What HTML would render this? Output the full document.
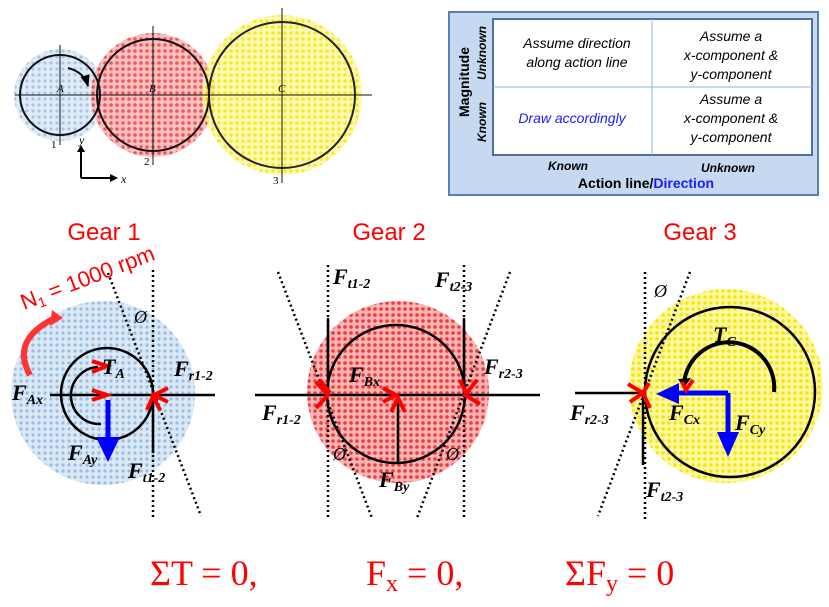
<!DOCTYPE html>
<html><head><meta charset="utf-8"><style>
body{margin:0;background:#fff;width:829px;height:607px;overflow:hidden}
svg{display:block}
text{font-family:"Liberation Serif",serif}
.s text,text.s{font-family:"Liberation Sans",sans-serif}
.f{font-family:"Liberation Serif",serif;font-weight:bold;font-style:italic;font-size:22px}
.sub{font-size:14px}
</style></head><body>
<svg width="829" height="607" viewBox="0 0 829 607">
<defs>
<pattern id="pb" width="6" height="6" patternUnits="userSpaceOnUse"><rect width="6" height="6" fill="#dbe8f5"/><circle cx="3" cy="3" r="1.6" fill="#99bce2"/></pattern>
<pattern id="pr" width="6" height="6" patternUnits="userSpaceOnUse"><rect width="6" height="6" fill="#f7b5b5"/><circle cx="3" cy="3" r="1.8" fill="#ee3b3b"/></pattern>
<pattern id="py" width="6" height="6" patternUnits="userSpaceOnUse"><rect width="6" height="6" fill="#fdf7a8"/><circle cx="3" cy="3" r="1.8" fill="#f5e800"/></pattern>
<marker id="ak" viewBox="0 0 10 10" refX="9" refY="5" markerWidth="6" markerHeight="6" orient="auto"><path d="M0,1L10,5L0,9z" fill="#000"/></marker>
</defs>

<g>
<circle cx="60" cy="95" r="46" fill="url(#pb)" opacity="0.85"/>
<circle cx="153" cy="95" r="62" fill="url(#pr)" opacity="0.85"/>
<circle cx="282" cy="95" r="80" fill="url(#py)" opacity="0.85"/>
<circle cx="60" cy="95" r="40" fill="none" stroke="#111" stroke-width="2"/>
<circle cx="153" cy="95" r="56" fill="none" stroke="#111" stroke-width="2"/>
<circle cx="282" cy="95" r="73" fill="none" stroke="#222" stroke-width="2"/>
<g stroke="#111" stroke-width="1">
<line x1="15" y1="95" x2="372" y2="95"/>
<line x1="60" y1="45" x2="60" y2="145"/>
<line x1="153" y1="26" x2="153" y2="165"/>
<line x1="282" y1="8" x2="282" y2="183"/>
</g>
<path d="M68,68 Q84,72 88,86" fill="none" stroke="#111" stroke-width="2" marker-end="url(#ak)"/>
<text x="57" y="92" font-size="11" font-style="italic">A</text>
<text x="149" y="92" font-size="11" font-style="italic">B</text>
<text x="278" y="92" font-size="11" font-style="italic">C</text>
<text x="51" y="148" font-size="11">1</text>
<text x="144" y="165" font-size="11">2</text>
<text x="273" y="184" font-size="11">3</text>
<path d="M81,178 L81,150 M81,178 L112,178" stroke="#000" stroke-width="2" fill="none"/>
<path d="M77,152 L81,145 L85,152z M110,174 L118,178 L110,182z" fill="#000"/>
<text x="79" y="144" font-size="12" font-style="italic">y</text>
<text x="121" y="183" font-size="12" font-style="italic">x</text>
</g>

<g class="s">
<rect x="449" y="12" width="369" height="183" fill="#c6d9f0" stroke="#5a80b0" stroke-width="2"/>
<rect x="493" y="19" width="319" height="136" fill="#fff" stroke="#4f6f9e" stroke-width="2"/>
<line x1="652" y1="19" x2="652" y2="155" stroke="#8db3e2" stroke-width="1"/>
<line x1="493" y1="87" x2="812" y2="87" stroke="#8db3e2" stroke-width="1"/>
<g font-size="14" font-style="italic" text-anchor="middle">
<text x="577" y="48">Assume direction</text>
<text x="577" y="67">along action line</text>
<text x="731" y="41">Assume a</text>
<text x="731" y="60">x-component &amp;</text>
<text x="731" y="79">y-component</text>
<text x="572" y="123" fill="#1a1aff">Draw accordingly</text>
<text x="731" y="104">Assume a</text>
<text x="731" y="123">x-component &amp;</text>
<text x="731" y="142">y-component</text>
<text x="568" y="170" font-size="12" font-weight="bold">Known</text>
<text x="728" y="172" font-size="12" font-weight="bold">Unknown</text>
<text x="646" y="188" font-size="14" font-weight="bold" font-style="normal">Action line/<tspan fill="#1a1aff">Direction</tspan></text>
<text transform="translate(469,82) rotate(-90)" font-size="14" font-weight="bold" font-style="normal">Magnitude</text>
<text transform="translate(486,53) rotate(-90)" font-size="12" font-weight="bold">Unknown</text>
<text transform="translate(486,122) rotate(-90)" font-size="12" font-weight="bold">Known</text>
</g>
</g>

<g class="s" fill="#f00" font-size="24" text-anchor="middle">
<text x="104" y="240">Gear 1</text>
<text x="389" y="240">Gear 2</text>
<text x="700" y="240">Gear 3</text>
</g>

<g>
<circle cx="103" cy="393" r="92" fill="url(#pb)"/>
<circle cx="107" cy="394" r="46" fill="none" stroke="#000" stroke-width="2.5"/>
<line x1="50" y1="395" x2="215" y2="395" stroke="#000" stroke-width="2.5"/>
<line x1="153" y1="270" x2="153" y2="520" stroke="#000" stroke-width="2.5" stroke-dasharray="2,3"/>
<line x1="108" y1="273" x2="201" y2="516" stroke="#000" stroke-width="2.5" stroke-dasharray="2,3"/>
<line x1="153" y1="395" x2="153" y2="453" stroke="#000" stroke-width="2.5"/>
<path d="M101,424 A28,28 0 1 1 98,367" fill="none" stroke="#000" stroke-width="2.5"/>
<line x1="108" y1="400" x2="108" y2="440" stroke="#00f" stroke-width="5"/>
<path d="M96,437 L108,462 L120,437z" fill="#00f"/>
<path d="M92,361 L107,366 L92,372 M92,390 L107,395 L92,400 M168,388 L154,395 L168,402 M147,410 L153,396 L160,410" fill="none" stroke="#f00" stroke-width="4"/>
<path d="M30,375 Q10,340 55,318" fill="none" stroke="#f33" stroke-width="6"/>
<path d="M52,310 L63,318 L50,326z" fill="#f33"/>
<text class="s" x="24" y="310" font-size="22" fill="#f00" transform="rotate(-21 24 310)">N<tspan font-size="14" dy="4">1</tspan><tspan dy="-4"> = 1000 rpm</tspan></text>
<text x="134" y="323" font-size="18" font-style="italic">Ø</text>
<text class="f" x="102" y="374">T<tspan class="sub" dy="4">A</tspan></text>
<text class="f" x="12" y="400">F<tspan class="sub" dy="4">Ax</tspan></text>
<text class="f" x="174" y="376">F<tspan class="sub" dy="4">r1-2</tspan></text>
<text class="f" x="68" y="460">F<tspan class="sub" dy="4">Ay</tspan></text>
<text class="f" x="128" y="478">F<tspan class="sub" dy="4">t1-2</tspan></text>
</g>

<g>
<circle cx="398" cy="392" r="91" fill="url(#pr)"/>
<circle cx="396" cy="394" r="69" fill="none" stroke="#000" stroke-width="2.5"/>
<line x1="255" y1="395" x2="540" y2="395" stroke="#000" stroke-width="2.5"/>
<line x1="328" y1="265" x2="328" y2="520" stroke="#000" stroke-width="2.5" stroke-dasharray="2,3"/>
<line x1="464" y1="265" x2="464" y2="520" stroke="#000" stroke-width="2.5" stroke-dasharray="2,3"/>
<line x1="278" y1="272" x2="372" y2="518" stroke="#000" stroke-width="2.5" stroke-dasharray="2,3"/>
<line x1="510" y1="272" x2="417" y2="518" stroke="#000" stroke-width="2.5" stroke-dasharray="2,3"/>
<line x1="328" y1="318" x2="328" y2="394" stroke="#000" stroke-width="2.5"/>
<line x1="464" y1="318" x2="464" y2="394" stroke="#000" stroke-width="2.5"/>
<line x1="398" y1="463" x2="398" y2="398" stroke="#000" stroke-width="2.5"/>
<path d="M316,382 L328,395 L316,408 M320,380 L330,393 M383,388 L396,395 L383,402 M391,412 L398,398 L405,412 M477,380 L465,395 L480,404 M460,380 L466,393" fill="none" stroke="#f00" stroke-width="4"/>
<text x="333" y="460" font-size="18" font-style="italic">Ø</text>
<text x="446" y="460" font-size="18" font-style="italic">Ø</text>
<text class="f" x="333" y="284">F<tspan class="sub" dy="4">t1-2</tspan></text>
<text class="f" x="435" y="287">F<tspan class="sub" dy="4">t2-3</tspan></text>
<text class="f" x="349" y="382">F<tspan class="sub" dy="4">Bx</tspan></text>
<text class="f" x="262" y="420">F<tspan class="sub" dy="4">r1-2</tspan></text>
<text class="f" x="484" y="374">F<tspan class="sub" dy="4">r2-3</tspan></text>
<text class="f" x="379" y="487">F<tspan class="sub" dy="4">By</tspan></text>
</g>

<g>
<circle cx="726" cy="386" r="97" fill="url(#py)"/>
<circle cx="730" cy="392" r="85" fill="none" stroke="#000" stroke-width="2.5"/>
<line x1="575" y1="393" x2="643" y2="393" stroke="#000" stroke-width="2.5"/>
<line x1="645" y1="272" x2="645" y2="520" stroke="#000" stroke-width="2.5" stroke-dasharray="2,3"/>
<line x1="690" y1="272" x2="598" y2="516" stroke="#000" stroke-width="2.5" stroke-dasharray="2,3"/>
<line x1="643" y1="393" x2="643" y2="465" stroke="#000" stroke-width="2.5"/>
<path d="M684,383 A44,44 0 0 1 774,392" fill="none" stroke="#000" stroke-width="4"/>
<path d="M678,379 L684,388 L691,378z" fill="#000"/>
<line x1="728" y1="393" x2="675" y2="393" stroke="#00f" stroke-width="5"/>
<path d="M679,383 L656,394 L679,404z" fill="#00f"/>
<line x1="728" y1="393" x2="728" y2="435" stroke="#00f" stroke-width="5"/>
<path d="M717,432 L728,457 L739,432z" fill="#00f"/>
<path d="M628,384 L643,393 L630,402 M650,408 L643,393 L649,383 M682,382 L686,390 L693,380" fill="none" stroke="#f00" stroke-width="4"/>
<text x="654" y="297" font-size="18" font-style="italic">Ø</text>
<text class="f" x="713" y="342">T<tspan class="sub" dy="4">C</tspan></text>
<text class="f" x="669" y="420">F<tspan class="sub" dy="4">Cx</tspan></text>
<text class="f" x="735" y="430">F<tspan class="sub" dy="4">Cy</tspan></text>
<text class="f" x="570" y="420">F<tspan class="sub" dy="4">r2-3</tspan></text>
<text class="f" x="646" y="497">F<tspan class="sub" dy="4">t2-3</tspan></text>
</g>

<g fill="#f00" font-size="36">
<text x="150" y="585">ΣT = 0,</text>
<text x="366" y="585">F<tspan font-size="24" dy="6">x</tspan><tspan dy="-6"> = 0,</tspan></text>
<text x="565" y="585">ΣF<tspan font-size="24" dy="6">y</tspan><tspan dy="-6"> = 0</tspan></text>
</g>
</svg>
</body></html>
